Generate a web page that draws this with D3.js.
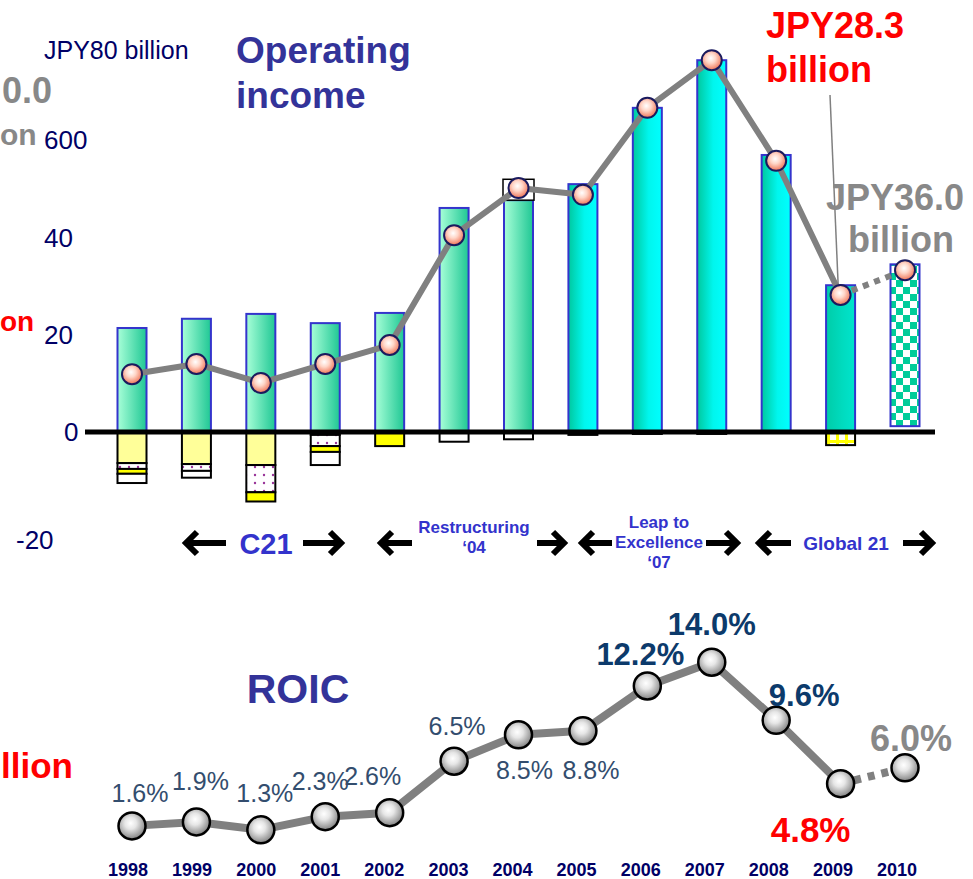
<!DOCTYPE html>
<html>
<head>
<meta charset="utf-8">
<script src="https://cdn.jsdelivr.net/npm/d3@7"></script>
<style>
  body { margin: 0; background: #fff; }
  svg { display: block; font-family: Arial, "Liberation Sans", sans-serif; }
</style>
</head>
<body>
<div id="chart"></div>
<script>
// ---- data ----
var years = [1998, 1999, 2000, 2001, 2002, 2003, 2004, 2005, 2006, 2007, 2008, 2009, 2010];

// JPY billion
var barValues   = [21.4, 23.3, 24.3, 22.4, 24.5, 46.1, 47.7, 51.0, 66.7, 76.5, 57.0, 30.2, 34.5];
var barBase     = [0, 0, 0, 0, 0, 0, 0, 0, 0, 0, 0, 0, 1.2];
var extraTop    = [0, 0, 0, 0, 0, 0, 4.3, 0, 0, 0, 0, 0, 0];
var lineValues  = [11.9, 14.0, 10.1, 14.0, 17.9, 40.5, 50.2, 48.8, 66.7, 76.5, 55.8, 28.2, 33.3];

// items below zero (stacked downwards)
var lightYellow  = [6.4, 6.6, 6.8, 0.6, 0, 0, 0, 0, 0, 0, 0, 0, 0];
var dotted       = [1.2, 1.4, 5.6, 2.3, 0, 0, 0, 0, 0, 0, 0, 0, 0];
var brightYellow = [1.0, 0, 1.9, 1.2, 2.9, 0, 0, 0, 0, 0, 0, 0, 0];
var whiteItem    = [1.9, 1.4, 0, 2.7, 0, 2.0, 1.5, 0.6, 0.4, 0.4, 0, 0, 0];
var yellowGrid   = [0, 0, 0, 0, 0, 0, 0, 0, 0, 0, 0, 2.7, 0];

// ROIC %
var roic = [1.6, 1.9, 1.3, 2.3, 2.6, 6.5, 8.5, 8.8, 12.2, 14.0, 9.6, 4.8, 6.0];
var roicLabels = ["1.6%", "1.9%", "1.3%", "2.3%", "2.6%", "6.5%", "8.5%", "8.8%", "12.2%", "14.0%", "9.6%", "4.8%", "6.0%"];

var tickValues = [-20, 0, 20, 40, 60, 80];
var tickLabels = ["-20", "0", "20", "40", "600", "JPY80 billion"];

// ---- layout ----
var W = 973, H = 879;
var svg = d3.select("#chart").append("svg").attr("width", W).attr("height", H);
var defs = svg.append("defs");

var x = d3.scalePoint().domain(years).range([132, 905]);
var xLabel = d3.scalePoint().domain(years).range([128, 897]);
var y = d3.scaleLinear().domain([-20, 80]).range([529.2, 43.2]);
var yR = d3.scaleLinear().domain([0, 15]).range([847, 649]);
var barW = 29;

function linGrad(id, stops) {
  var g = defs.append("linearGradient").attr("id", id)
    .attr("x1", 0).attr("x2", 1).attr("y1", 0).attr("y2", 0);
  stops.forEach(function (s) { g.append("stop").attr("offset", s[0]).attr("stop-color", s[1]); });
}
function radGrad(id, stops) {
  var g = defs.append("radialGradient").attr("id", id)
    .attr("cx", 0.45).attr("cy", 0.4).attr("r", 0.62);
  stops.forEach(function (s) { g.append("stop").attr("offset", s[0]).attr("stop-color", s[1]); });
}
linGrad("gOld", [[0, "#a8ffd8"], [1, "#1fc794"]]);
linGrad("gNew", [[0, "#00c89e"], [0.55, "#00f6ee"], [1, "#00ffff"]]);
linGrad("gLast", [[0, "#00cca8"], [0.6, "#00dcc0"], [1, "#00e4cc"]]);
radGrad("gDot", [[0, "#ffffff"], [0.4, "#ffd6c8"], [1, "#ee6e50"]]);
radGrad("gRoic", [[0, "#ffffff"], [0.35, "#e6e6e6"], [1, "#7c7c7c"]]);

var pd = defs.append("pattern").attr("id", "dots").attr("patternUnits", "userSpaceOnUse")
  .attr("width", 9).attr("height", 8);
pd.append("rect").attr("width", 9).attr("height", 8).attr("fill", "#fff");
pd.append("circle").attr("cx", 3).attr("cy", 3).attr("r", 1.2).attr("fill", "#993399");

var pc = defs.append("pattern").attr("id", "checker").attr("patternUnits", "userSpaceOnUse")
  .attr("width", 14).attr("height", 14);
pc.append("rect").attr("width", 14).attr("height", 14).attr("fill", "#fff");
pc.append("rect").attr("width", 7).attr("height", 7).attr("fill", "#00cc99");
pc.append("rect").attr("x", 7).attr("y", 7).attr("width", 7).attr("height", 7).attr("fill", "#00cc99");

var py = defs.append("pattern").attr("id", "ygrid").attr("patternUnits", "userSpaceOnUse")
  .attr("width", 9).attr("height", 9);
py.append("rect").attr("width", 9).attr("height", 9).attr("fill", "#ffff00");
py.append("rect").attr("x", 2).attr("y", 2).attr("width", 6).attr("height", 6).attr("fill", "#fff");

// ---- left axis labels ----
svg.append("g").selectAll("text").data(tickValues).enter().append("text")
  .attr("x", function (d) { return d === 0 ? 64 : d < 0 ? 16 : 44; })
  .attr("y", function (d) { return y(d) + (d === 80 ? 16 : d < 0 ? 20 : 9); })
  .attr("fill", "#000066")
  .attr("font-size", function (d) { return d === 80 ? 25 : 26; })
  .text(function (d, i) { return tickLabels[i]; });

// ---- titles ----
svg.append("text").attr("x", 236).attr("y", 63).attr("font-size", 37).attr("font-weight", "bold")
  .attr("fill", "#333399").text("Operating");
svg.append("text").attr("x", 236).attr("y", 108).attr("font-size", 37).attr("font-weight", "bold")
  .attr("fill", "#333399").text("income");
svg.append("text").attr("x", 298).attr("y", 703).attr("text-anchor", "middle").attr("font-size", 41)
  .attr("font-weight", "bold").attr("fill", "#333399").text("ROIC");

// fragments of labels that run off the slide's left edge
[["0.0", 2, 103, 36, "#888888"], ["on", 0, 145, 30, "#888888"],
 ["on", 0, 331, 28, "#ff0000"], ["llion", 1, 778, 35, "#ff0000"]].forEach(function (t) {
  svg.append("text").attr("x", t[1]).attr("y", t[2])
    .attr("font-size", t[3]).attr("font-weight", "bold").attr("fill", t[4]).text(t[0]);
});

// ---- positive bars ----
svg.append("g").selectAll("rect").data(years).enter().append("rect")
  .attr("x", function (d) { return x(d) - barW / 2; })
  .attr("y", function (d, i) { return y(barValues[i]); })
  .attr("width", barW)
  .attr("height", function (d, i) { return y(barBase[i]) - y(barValues[i]); })
  .attr("fill", function (d) {
    return d === 2010 ? "url(#checker)" : d === 2009 ? "url(#gLast)" : d >= 2005 ? "url(#gNew)" : "url(#gOld)";
  })
  .attr("stroke", "#3434cc").attr("stroke-width", 2);

svg.append("g").selectAll("rect").data(years.filter(function (d, i) { return extraTop[i] > 0; }))
  .enter().append("rect")
  .attr("x", function (d) { return x(d) - barW / 2 - 1; })
  .attr("y", function (d) { var i = years.indexOf(d); return y(barValues[i] + extraTop[i]); })
  .attr("width", barW + 2)
  .attr("height", function (d) { var i = years.indexOf(d); return y(barValues[i]) - y(barValues[i] + extraTop[i]); })
  .attr("fill", "#fff").attr("stroke", "#000").attr("stroke-width", 1.5);

// ---- negative stacked items ----
var negKeys = ["lightYellow", "dotted", "brightYellow", "whiteItem", "yellowGrid"];
var negFill = { lightYellow: "#ffff99", dotted: "url(#dots)", brightYellow: "#ffff00", whiteItem: "#ffffff", yellowGrid: "url(#ygrid)" };
var negSrc = { lightYellow: lightYellow, dotted: dotted, brightYellow: brightYellow, whiteItem: whiteItem, yellowGrid: yellowGrid };
var negRows = years.map(function (yr, i) {
  var r = { year: yr };
  negKeys.forEach(function (k) { r[k] = -negSrc[k][i]; });
  return r;
});
var stacked = d3.stack().keys(negKeys).offset(d3.stackOffsetDiverging)(negRows);

svg.append("g").selectAll("g").data(stacked).enter().append("g")
  .attr("fill", function (s) { return negFill[s.key]; })
  .selectAll("rect").data(function (s) { return s.filter(function (p) { return p[1] - p[0] !== 0; }); })
  .enter().append("rect")
  .attr("x", function (p) { return x(p.data.year) - barW / 2; })
  .attr("y", function (p) { return y(Math.max(p[0], p[1])); })
  .attr("width", barW)
  .attr("height", function (p) { return Math.abs(y(p[0]) - y(p[1])); })
  .attr("stroke", "#000").attr("stroke-width", 2);

// zero line
svg.append("line").attr("x1", 85).attr("x2", 935).attr("y1", y(0)).attr("y2", y(0))
  .attr("stroke", "#000").attr("stroke-width", 5);

// ---- income line ----
var pts = years.map(function (d, i) { return [x(d), y(lineValues[i])]; });
svg.append("path").attr("d", d3.line()(pts.slice(0, 12)))
  .attr("fill", "none").attr("stroke", "#808080").attr("stroke-width", 6).attr("stroke-linejoin", "round");
svg.append("path").attr("d", d3.line()(pts.slice(11)))
  .attr("fill", "none").attr("stroke", "#808080").attr("stroke-width", 6).attr("stroke-dasharray", "6,6");

// leader line for the 2009 callout
svg.append("line").attr("x1", 830).attr("y1", 95).attr("x2", x(2009) - 2).attr("y2", y(lineValues[11]))
  .attr("stroke", "#808080").attr("stroke-width", 1.5);

svg.append("g").selectAll("circle").data(pts).enter().append("circle")
  .attr("cx", function (p) { return p[0]; }).attr("cy", function (p) { return p[1]; })
  .attr("r", 10).attr("fill", "url(#gDot)").attr("stroke", "#1a1a5e").attr("stroke-width", 2);

// callouts
svg.append("text").attr("x", 766).attr("y", 38).attr("font-size", 36).attr("font-weight", "bold")
  .attr("fill", "#ff0000").text("JPY28.3");
svg.append("text").attr("x", 766).attr("y", 82).attr("font-size", 36).attr("font-weight", "bold")
  .attr("fill", "#ff0000").text("billion");
svg.append("text").attr("x", 826).attr("y", 210).attr("font-size", 36).attr("font-weight", "bold")
  .attr("fill", "#888888").text("JPY36.0");
svg.append("text").attr("x", 848).attr("y", 252).attr("font-size", 36).attr("font-weight", "bold")
  .attr("fill", "#888888").text("billion");

// ---- plan period arrows ----
function arrow(x1, x2, yy) {
  // x1 = tip, x2 = tail
  var dir = x2 > x1 ? 1 : -1;
  var g = svg.append("g").attr("stroke", "#000").attr("fill", "none");
  g.append("line").attr("x1", x1 + dir * 3).attr("x2", x2).attr("y1", yy).attr("y2", yy).attr("stroke-width", 6);
  g.append("path").attr("d", "M" + (x1 + dir * 13) + "," + (yy - 11) + "L" + (x1 + dir * 2) + "," + yy + "L" + (x1 + dir * 13) + "," + (yy + 11))
    .attr("stroke-width", 6).attr("stroke-linejoin", "miter");
}
var phases = [
  { lines: ["C21"], size: 29, cx: 266, base: 554, left: [184, 226], right: [343, 303] },
  { lines: ["Restructuring", "\u201804"], size: 17, cx: 474, base: 533, left: [379, 412], right: [566, 537] },
  { lines: ["Leap to", "Excellence", "\u201807"], size: 17, cx: 659, base: 528, left: [580, 612], right: [739, 706] },
  { lines: ["Global 21"], size: 19, cx: 846, base: 550, left: [757, 791], right: [934, 903] }
];
phases.forEach(function (p) {
  p.lines.forEach(function (t, j) {
    svg.append("text").attr("x", p.cx).attr("y", p.base + j * 20).attr("text-anchor", "middle")
      .attr("font-size", p.size).attr("font-weight", "bold").attr("fill", "#3333cc").text(t);
  });
  arrow(p.left[0], p.left[1], 543);
  arrow(p.right[0], p.right[1], 543);
});

// ---- ROIC ----
var rp = years.map(function (d, i) { return [x(d), yR(roic[i])]; });
svg.append("path").attr("d", d3.line()(rp.slice(0, 12)))
  .attr("fill", "none").attr("stroke", "#808080").attr("stroke-width", 8).attr("stroke-linejoin", "round");
svg.append("path").attr("d", d3.line()(rp.slice(11)))
  .attr("fill", "none").attr("stroke", "#808080").attr("stroke-width", 8).attr("stroke-dasharray", "7,7");
svg.append("g").selectAll("circle").data(rp).enter().append("circle")
  .attr("cx", function (p) { return p[0]; }).attr("cy", function (p) { return p[1]; })
  .attr("r", 13.5).attr("fill", "url(#gRoic)").attr("stroke", "#000").attr("stroke-width", 2.5);

// label placement relative to each point: dx, dy, style
var roicLabelPos = [
  [8, -24, "n"], [4, -32, "n"], [4, -28, "n"], [-5, -27, "n"], [-17, -28, "n"], [3, -26, "n"],
  [6, 44, "n"], [8, 48, "n"], [-7, -21, "b"], [0, -27, "b"], [28, -14, "b"], [-30, 58, "r"], [6, -17, "g"]
];
var roicStyle = {
  n: { size: 25, weight: "normal", fill: "#334d6e" },
  b: { size: 31, weight: "bold", fill: "#0c3a6b" },
  r: { size: 35, weight: "bold", fill: "#ff0000" },
  g: { size: 36, weight: "bold", fill: "#888888" }
};
svg.append("g").selectAll("text").data(roicLabels).enter().append("text")
  .attr("x", function (d, i) { return rp[i][0] + roicLabelPos[i][0]; })
  .attr("y", function (d, i) { return rp[i][1] + roicLabelPos[i][1]; })
  .attr("text-anchor", "middle")
  .attr("font-size", function (d, i) { return roicStyle[roicLabelPos[i][2]].size; })
  .attr("font-weight", function (d, i) { return roicStyle[roicLabelPos[i][2]].weight; })
  .attr("fill", function (d, i) { return roicStyle[roicLabelPos[i][2]].fill; })
  .text(function (d) { return d; });

// year labels
svg.append("g").selectAll("text").data(years).enter().append("text")
  .attr("x", function (d) { return xLabel(d); }).attr("y", 876).attr("text-anchor", "middle")
  .attr("font-size", 18).attr("font-weight", "bold").attr("fill", "#000066")
  .text(function (d) { return d; });
</script>
</body>
</html>
